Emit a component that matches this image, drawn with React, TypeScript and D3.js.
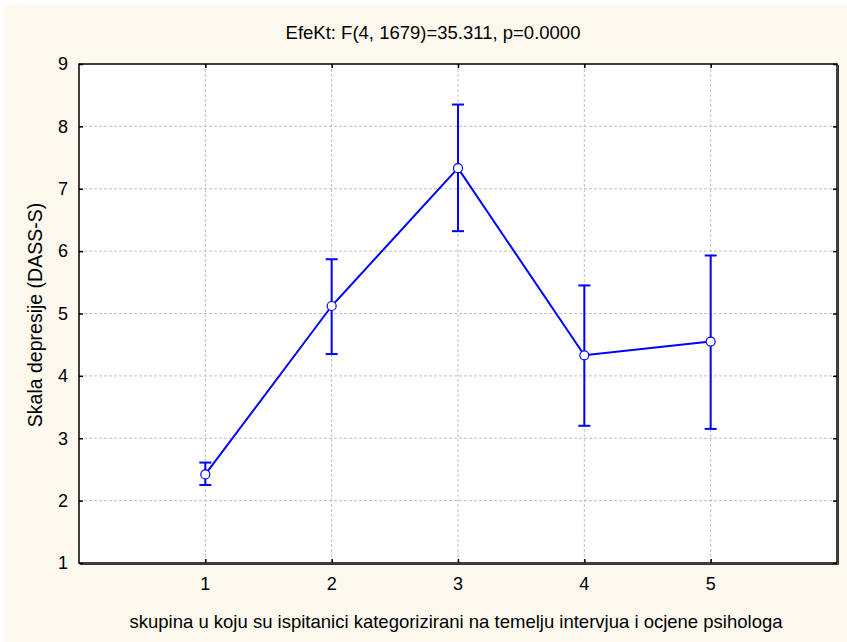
import * as d3 from 'd3';
import React, { useRef, useEffect } from 'react';

const groups = [1, 2, 3, 4, 5];
const means = [2.42, 5.12, 7.33, 4.33, 4.55];
const upper = [2.61, 5.87, 8.35, 5.45, 5.93];
const lower = [2.25, 4.35, 6.32, 3.2, 3.15];
const yTicks = [1, 2, 3, 4, 5, 6, 7, 8, 9];

const title = 'EfeKt: F(4, 1679)=35.311, p=0.0000';
const xTitle = 'skupina u koju su ispitanici kategorizirani na temelju intervjua i ocjene psihologa';
const yTitle = 'Skala depresije (DASS-S)';

function App() {
  const svgRef = useRef<SVGSVGElement>(null);

  useEffect(() => {
    const width = 847;
    const height = 642;
    const left = 79;
    const right = 837;
    const top = 64;
    const bottom = 563;
    const font = '"Liberation Sans", Arial, sans-serif';

    const svg = d3.select(svgRef.current);
    svg.selectAll('*').remove();

    svg.append('rect').attr('width', width).attr('height', height).attr('fill', '#ffffff');
    svg
      .append('rect')
      .attr('x', 4)
      .attr('y', 5)
      .attr('width', width - 4)
      .attr('height', height - 5)
      .attr('fill', '#fdf9ee');

    const x = d3.scaleLinear().domain([0, 6]).range([left, right]);
    const y = d3.scaleLinear().domain([1, 9]).range([bottom, top]);

    svg
      .append('rect')
      .attr('x', left)
      .attr('y', top)
      .attr('width', right - left)
      .attr('height', bottom - top)
      .attr('fill', '#ffffff');

    /* grid */
    const grid = svg.append('g');
    grid
      .selectAll('line.gy')
      .data(yTicks.slice(1, -1))
      .enter()
      .append('line')
      .attr('x1', left)
      .attr('x2', right)
      .attr('y1', (d) => y(d))
      .attr('y2', (d) => y(d))
      .attr('stroke', '#c0c0c0')
      .attr('stroke-dasharray', '3,2');
    grid
      .selectAll('line.gx')
      .data(groups)
      .enter()
      .append('line')
      .attr('x1', (d) => x(d))
      .attr('x2', (d) => x(d))
      .attr('y1', top)
      .attr('y2', bottom)
      .attr('stroke', '#c0c0c0')
      .attr('stroke-dasharray', '3,2');

    /* axes: ticks pointing inward on all four sides */
    const yAxisL = d3.axisRight(y).tickValues(yTicks).tickSize(4).tickFormat(() => '');
    const yAxisR = d3.axisLeft(y).tickValues(yTicks).tickSize(4).tickFormat(() => '');
    const xAxisB = d3.axisTop(x).tickValues(groups).tickSize(4).tickFormat(() => '');
    const xAxisT = d3.axisBottom(x).tickValues(groups).tickSize(4).tickFormat(() => '');

    const axes = [
      svg.append('g').attr('transform', `translate(${left},0)`).call(yAxisL),
      svg.append('g').attr('transform', `translate(${right},0)`).call(yAxisR),
      svg.append('g').attr('transform', `translate(0,${bottom})`).call(xAxisB),
      svg.append('g').attr('transform', `translate(0,${top})`).call(xAxisT),
    ];
    axes.forEach((g) => {
      g.select('.domain').remove();
      g.selectAll('line').attr('stroke', '#000').attr('stroke-width', 1.5);
    });

    svg
      .append('rect')
      .attr('x', left)
      .attr('y', top)
      .attr('width', right - left)
      .attr('height', bottom - top)
      .attr('fill', 'none')
      .attr('stroke', '#000')
      .attr('stroke-width', 1.5);
    // shadow on right and bottom edge
    svg
      .append('path')
      .attr('d', `M${right + 1.5},${top + 1} V${bottom + 1.5} H${left + 1}`)
      .attr('fill', 'none')
      .attr('stroke', '#333')
      .attr('stroke-width', 1);

    /* tick labels */
    svg
      .append('g')
      .selectAll('text')
      .data(yTicks)
      .enter()
      .append('text')
      .attr('x', left - 11)
      .attr('y', (d) => y(d))
      .attr('dy', '0.35em')
      .attr('text-anchor', 'end')
      .attr('font-family', font)
      .attr('font-size', 18)
      .text((d) => d);

    svg
      .append('g')
      .selectAll('text')
      .data(groups)
      .enter()
      .append('text')
      .attr('x', (d) => x(d))
      .attr('y', bottom + 27)
      .attr('text-anchor', 'middle')
      .attr('font-family', font)
      .attr('font-size', 18)
      .text((d) => d);

    /* titles */
    svg
      .append('text')
      .attr('x', 433)
      .attr('y', 39)
      .attr('text-anchor', 'middle')
      .attr('font-family', font)
      .attr('font-size', 18.5)
      .text(title);
    svg
      .append('text')
      .attr('x', 456)
      .attr('y', 628)
      .attr('text-anchor', 'middle')
      .attr('font-family', font)
      .attr('font-size', 18.5)
      .text(xTitle);
    svg
      .append('text')
      .attr('transform', `translate(42,315) rotate(-90)`)
      .attr('text-anchor', 'middle')
      .attr('font-family', font)
      .attr('font-size', 19.5)
      .text(yTitle);

    /* error bars */
    const bars = svg.append('g').attr('stroke', '#0000ff').attr('stroke-width', 2);
    groups.forEach((g, i) => {
      bars
        .append('line')
        .attr('x1', x(g))
        .attr('x2', x(g))
        .attr('y1', y(lower[i]))
        .attr('y2', y(upper[i]));
      [lower[i], upper[i]].forEach((v) => {
        bars
          .append('line')
          .attr('x1', x(g) - 6)
          .attr('x2', x(g) + 6)
          .attr('y1', y(v))
          .attr('y2', y(v));
      });
    });

    /* mean line */
    const line = d3
      .line<number>()
      .x((d, i) => x(groups[i]))
      .y((d) => y(d));
    svg
      .append('path')
      .attr('d', line(means))
      .attr('fill', 'none')
      .attr('stroke', '#0000ff')
      .attr('stroke-width', 2);

    svg
      .append('g')
      .selectAll('circle')
      .data(means)
      .enter()
      .append('circle')
      .attr('cx', (d, i) => x(groups[i]))
      .attr('cy', (d) => y(d))
      .attr('r', 4.5)
      .attr('fill', '#ffffff')
      .attr('stroke', '#0000ff')
      .attr('stroke-width', 1.2);
  }, []);

  return (
    <svg
      ref={svgRef}
      width={847}
      height={642}
      style={{ position: 'absolute', left: 0, top: 0, display: 'block' }}
    ></svg>
  );
}

export default App;
